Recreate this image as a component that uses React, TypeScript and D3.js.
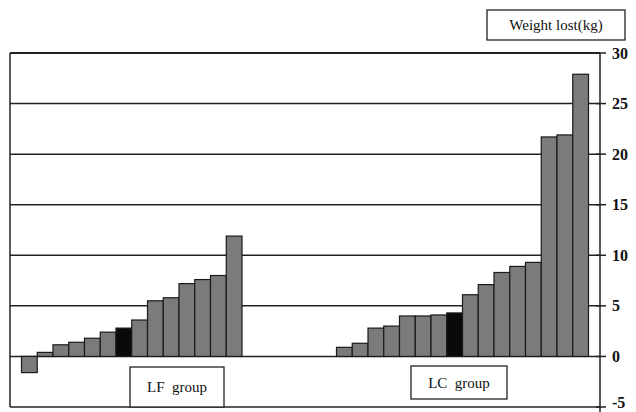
import React from 'react';
import * as d3 from 'd3';

// weight lost per patient, sorted, one black bar in each group
const lfValues = [-1.6, 0.4, 1.15, 1.4, 1.8, 2.4, 2.8, 3.6, 5.5, 5.8, 7.2, 7.6, 8.0, 11.9];
const lcValues = [0.9, 1.3, 2.8, 3.0, 4.0, 4.0, 4.1, 4.3, 6.1, 7.1, 8.3, 8.9, 9.3, 21.7, 21.9, 27.9];
const lfHighlight = 6;
const lcHighlight = 7;
const gapSlots = 6;
const yTicks = [-5, 0, 5, 10, 15, 20, 25, 30];
const gridTicks = [0, 5, 10, 15, 20, 25];

const W = 636;
const H = 412;
const left = 10;
const right = 600;
const top = 53;
const bottom = 407;

type Bar = { slot: number; value: number; dark: boolean };

const bars: Bar[] = [
  ...lfValues.map((v, i) => ({ slot: i, value: v, dark: i === lfHighlight })),
  ...lcValues.map((v, i) => ({
    slot: lfValues.length + gapSlots + i,
    value: v,
    dark: i === lcHighlight,
  })),
];
const slotCount = lfValues.length + gapSlots + lcValues.length;

export default function App() {
  const x = d3
    .scaleBand<number>()
    .domain(d3.range(slotCount))
    .range([left, right])
    .paddingInner(0)
    .paddingOuter(0.73);
  const y = d3.scaleLinear().domain([-5, 30]).range([bottom, top]);
  const serif = { fontFamily: 'Liberation Serif, DejaVu Serif, serif' };

  return (
    <svg width={W} height={H} style={{ position: 'absolute', left: 0, top: 0 }}>
      <rect x={0} y={0} width={W} height={H} fill="#fff" />
      {/* grid lines */}
      {gridTicks.map(t => (
        <line key={t} x1={left} x2={right} y1={y(t)} y2={y(t)} stroke="#222" strokeWidth={1.5} />
      ))}
      {/* frame */}
      <line x1={left} x2={right} y1={top} y2={top} stroke="#222" strokeWidth={2} />
      <line x1={left} x2={left} y1={top} y2={bottom} stroke="#222" strokeWidth={1.5} />
      <line x1={left} x2={right} y1={bottom} y2={bottom} stroke="#222" strokeWidth={1.5} />
      {/* bars */}
      {bars.map(b => {
        const y0 = y(0);
        const yv = y(b.value);
        return (
          <rect
            key={b.slot}
            x={x(b.slot)}
            y={Math.min(y0, yv)}
            width={x.bandwidth()}
            height={Math.abs(yv - y0)}
            fill={b.dark ? '#0a0a0a' : '#7b7b7b'}
            stroke="#1a1a1a"
            strokeWidth={1.2}
          />
        );
      })}
      {/* right axis */}
      <line x1={right} x2={right} y1={top} y2={H} stroke="#222" strokeWidth={1.5} />
      {yTicks.map(t => (
        <g key={t}>
          <line x1={right - 4} x2={right + 6} y1={y(t)} y2={y(t)} stroke="#222" strokeWidth={1.5} />
          <text
            x={612}
            y={t === -5 ? 408 : y(t) + 5.5}
            style={serif}
            fontWeight="bold"
            fontSize={16}
            fill="#111"
          >
            {t}
          </text>
        </g>
      ))}
      {/* y label box */}
      <rect x={487} y={10} width={138} height={30} fill="#fff" stroke="#222" strokeWidth={1.3} />
      <text x={556} y={30} textAnchor="middle" style={serif} fontSize={15} fill="#111">
        Weight lost(kg)
      </text>
      {/* group labels */}
      <rect x={130} y={367} width={94} height={40} fill="#fff" stroke="#222" strokeWidth={1.3} />
      <text x={177} y={392} textAnchor="middle" style={{ ...serif, whiteSpace: 'pre' }} fontSize={15} fill="#111">
        LF  group
      </text>
      <rect x={411} y={366} width={96} height={33} fill="#fff" stroke="#222" strokeWidth={1.3} />
      <text x={459} y={388} textAnchor="middle" style={{ ...serif, whiteSpace: 'pre' }} fontSize={15} fill="#111">
        LC  group
      </text>
    </svg>
  );
}
